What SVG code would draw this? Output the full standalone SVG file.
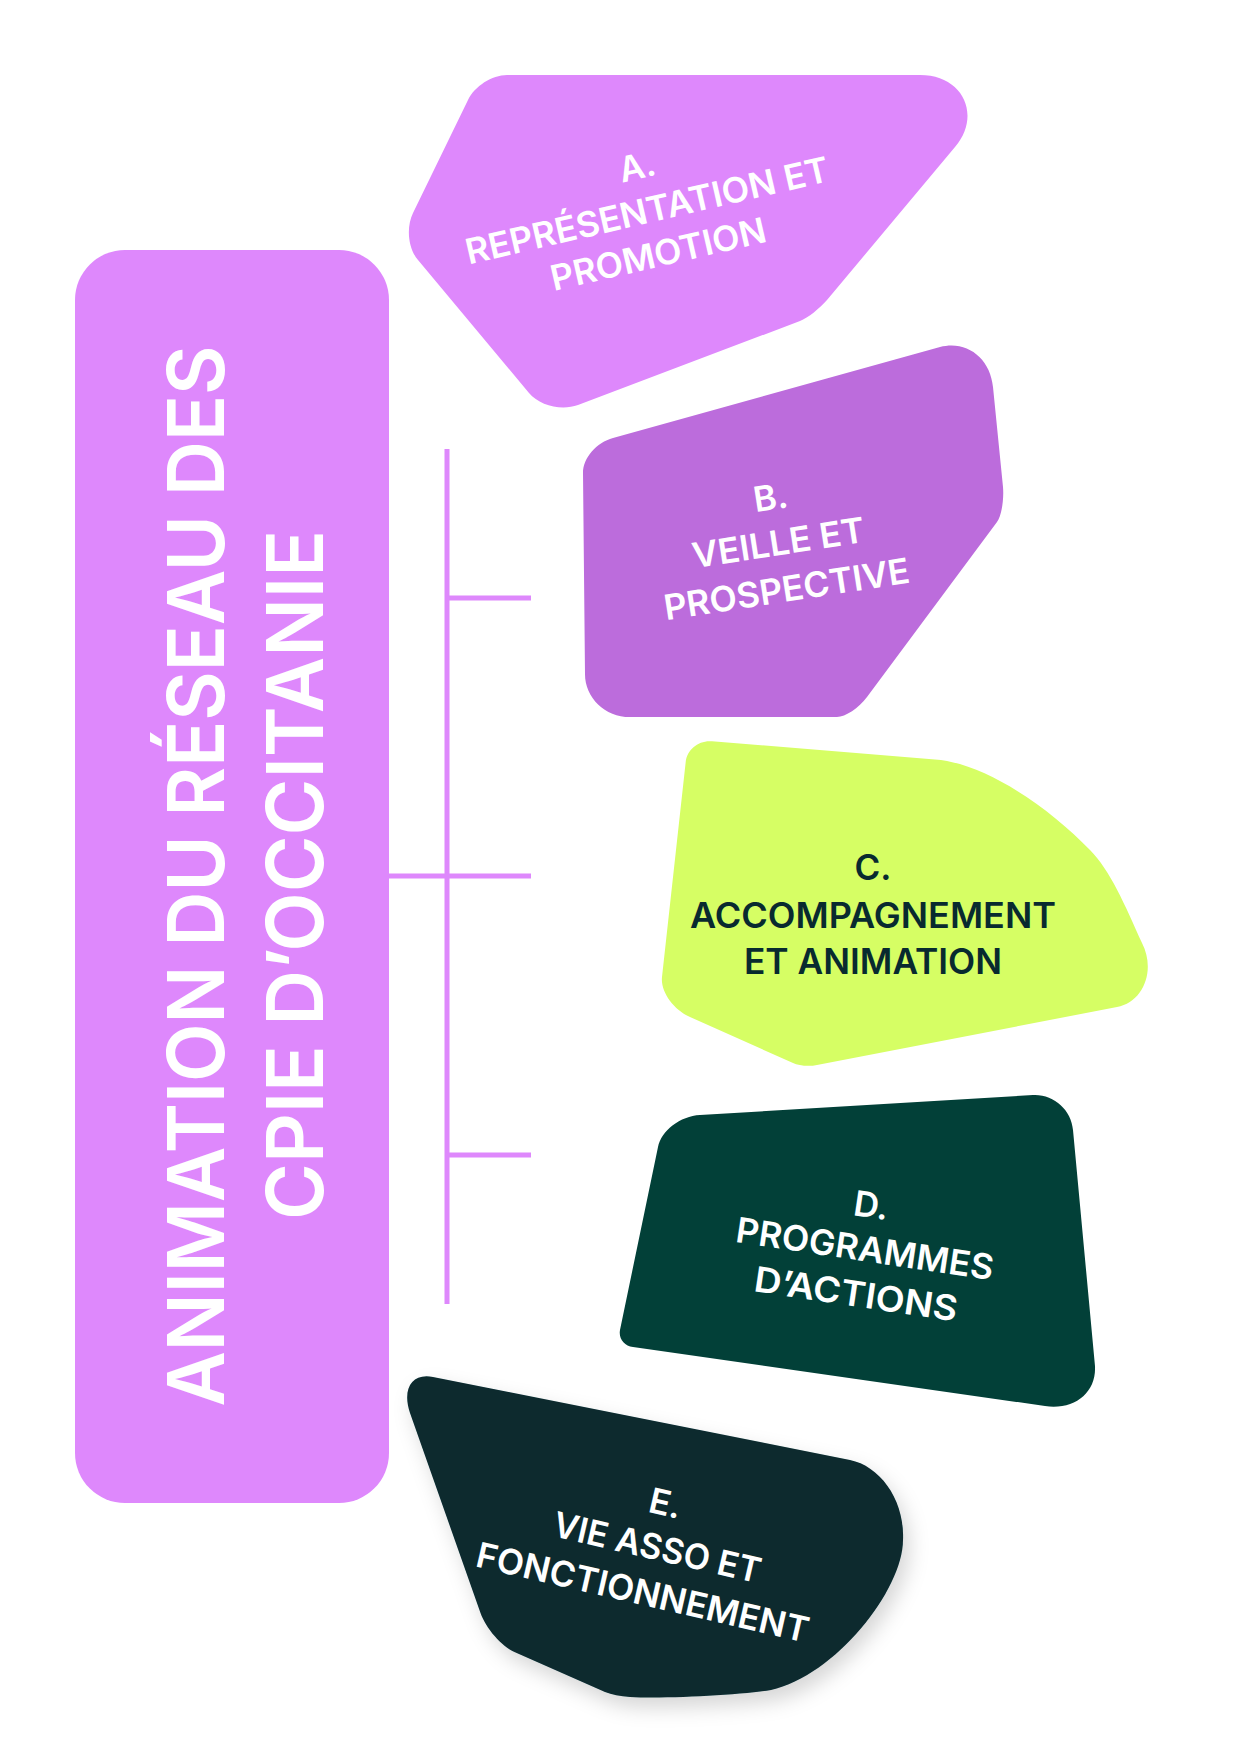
<svg xmlns="http://www.w3.org/2000/svg" width="1240" height="1754" viewBox="0 0 1240 1754">
<style>
.lbl{font-family:Inter,"Liberation Sans",Arial,sans-serif;font-weight:600;font-size:35px;text-anchor:middle}
.w{fill:#ffffff}
.dk{fill:#082a2f}
.main{font-family:Inter,"Liberation Sans",Arial,sans-serif;font-weight:600;font-size:78px;text-anchor:middle;fill:#ffffff}
.conn{stroke:#de88fc;stroke-width:5;fill:none}
</style>
<defs>
<filter id="shadow" x="-20%" y="-20%" width="150%" height="160%">
<feDropShadow dx="6" dy="10" stdDeviation="10" flood-color="#000000" flood-opacity="0.16"/>
</filter>
</defs>
<rect width="1240" height="1754" fill="#ffffff"/>
<g id="connectors">
<line class="conn" x1="447" y1="449" x2="447" y2="1304"/>
<line class="conn" x1="447" y1="598" x2="531" y2="598"/>
<line class="conn" x1="389" y1="876" x2="531" y2="876"/>
<line class="conn" x1="447" y1="1155" x2="531" y2="1155"/>
</g>
<g id="node-main">
<rect x="75" y="250" width="314" height="1253" rx="50" fill="#de88fc"/>
<text class="main" transform="translate(224,876) rotate(-90)" textLength="1061" lengthAdjust="spacingAndGlyphs">ANIMATION DU RÉSEAU DES</text>
<text class="main" transform="translate(323,875) rotate(-90)" textLength="690" lengthAdjust="spacingAndGlyphs">CPIE D’OCCITANIE</text>
</g>
<g id="node-a">
<path fill="#de88fc" d="M 507 75 L 920 75 C 963 75, 982 115, 955 147 L 827 300 C 820 308, 808 318, 800 321 L 578 405 C 561.5 411, 539.5 405.6, 529 393 L 418 260 C 408 248.5, 406 227.3, 413 213 L 468 100 C 474.6 86.3, 492 75, 507 75 Z"/>
<g transform="translate(648,223) rotate(-13)">
<text class="lbl w" x="2" y="-45">A.</text>
<text class="lbl w" x="2" y="0" textLength="372" lengthAdjust="spacingAndGlyphs">REPRÉSENTATION ET</text>
<text class="lbl w" x="3" y="45" textLength="220" lengthAdjust="spacingAndGlyphs">PROMOTION</text>
</g>
</g>
<g id="node-b">
<path fill="#bc6cdc" d="M 613 438 L 940 347 C 966.4 339.9, 990.3 357.9, 993 387 L 1003 487 C 1004.1 500.2, 1001.4 516, 997 522 L 867 697 C 858.8 708, 845.3 717, 837 717 L 630 717 C 604.7 717, 584.5 697.2, 585 673 L 583 473 C 583 458, 596.5 442.4, 613 438 Z"/>
<g transform="translate(787.5,601.5) rotate(-8.8)">
<text class="lbl w" x="-1" y="-93">B.</text>
<text class="lbl w" x="0" y="-47" textLength="174" lengthAdjust="spacingAndGlyphs">VEILLE ET</text>
<text class="lbl w" x="1" y="0" textLength="248" lengthAdjust="spacingAndGlyphs">PROSPECTIVE</text>
</g>
</g>
<g id="node-c">
<path fill="#d6fe64" d="M 712 741.3 L 935 759.4 C 985 763, 1050 808, 1090 850 C 1110 870, 1125 905, 1142 943 C 1156 970, 1143.5 1002, 1117 1007 L 817 1065 C 809.3 1066.7, 798.5 1065.8, 793 1063 L 690 1017 C 673 1009.3, 660.4 991.3, 662 977 L 685.7 762 C 687 749.4, 698.8 740, 712 741.3 Z"/>
<text class="lbl dk" x="873" y="880" font-size="36">C.</text>
<text class="lbl dk" x="873" y="928" font-size="36" textLength="366" lengthAdjust="spacingAndGlyphs">ACCOMPAGNEMENT</text>
<text class="lbl dk" x="873" y="974" font-size="36" textLength="258" lengthAdjust="spacingAndGlyphs">ET ANIMATION</text>
</g>
<g id="node-d">
<path fill="#024038" d="M 700 1115 L 1033 1095 C 1053.4 1093.9, 1071.4 1109.7, 1073 1130 L 1094.9 1365 C 1097.1 1392, 1074.7 1410.4, 1045 1406 L 633 1347.1 C 624.2 1346, 618.4 1338.3, 620 1330 L 658 1147 C 661.3 1130.5, 680.2 1116.1, 700 1115 Z"/>
<g transform="translate(863,1261) rotate(8.5)">
<text class="lbl w" x="0" y="-44">D.</text>
<text class="lbl w" x="0" y="0" textLength="260" lengthAdjust="spacingAndGlyphs">PROGRAMMES</text>
<text class="lbl w" x="-2" y="46" textLength="205" lengthAdjust="spacingAndGlyphs">D’ACTIONS</text>
</g>
</g>
<g id="node-e">
<path fill="#08292f" filter="url(#shadow)" d="M 433 1377 L 850 1460 C 880 1466, 905 1500, 903 1540 C 903 1590, 835 1676, 771 1690 C 740 1695, 665 1699, 630 1697 Q 615 1696, 605 1692 L 515 1652.2 C 501.3 1646.2, 486 1628.4, 480.5 1613 L 410 1413 C 401.8 1388.8, 412.1 1372.6, 433 1377 Z"/>
<g transform="translate(640,1604.5) rotate(13)">
<text class="lbl w" x="2" y="-92">E.</text>
<text class="lbl w" x="4" y="-47" textLength="212" lengthAdjust="spacingAndGlyphs">VIE ASSO ET</text>
<text class="lbl w" x="0" y="0" textLength="340" lengthAdjust="spacingAndGlyphs">FONCTIONNEMENT</text>
</g>
</g>
</svg>
